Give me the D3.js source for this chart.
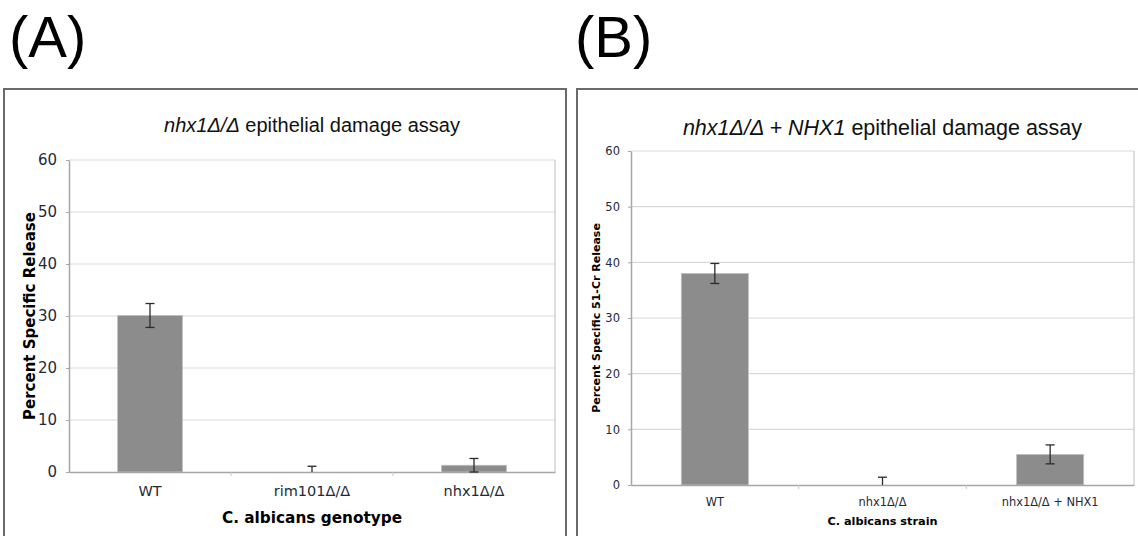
<!DOCTYPE html>
<html>
<head>
<meta charset="utf-8">
<script src="https://cdn.jsdelivr.net/npm/d3@7"></script>
<style>
  body { margin: 0; background: #fff; }
  .tick line { stroke: #a6a6a6; }
  .domain { stroke: #a6a6a6; }
</style>
</head>
<body>
<div id="chart"></div>
<script>
// panel A data
const catsA = ["WT", "rim101\u0394/\u0394", "nhx1\u0394/\u0394"];
const valsA = [30.1, 0, 1.3];
const errA = [2.3, 1.1, 1.3];

// panel B data
const catsB = ["WT", "nhx1\u0394/\u0394", "nhx1\u0394/\u0394 + NHX1"];
const valsB = [38.0, 0, 5.5];
const errB = [1.8, 1.4, 1.7];

const yTicks = [0, 10, 20, 30, 40, 50, 60];

const svg = d3.select('#chart')
    .append('svg')
    .attr('width', 1138)
    .attr('height', 536);

// panel letters
svg.append('text').attr('x', 9).attr('y', 57)
    .style('font-family', 'Liberation Sans, Arial, sans-serif')
    .style('font-size', '58px').text('(A)');
svg.append('text').attr('x', 575).attr('y', 57)
    .style('font-family', 'Liberation Sans, Arial, sans-serif')
    .style('font-size', '58px').text('(B)');

function drawPanel(opt) {
    const g = svg.append('g');
    const rows = opt.cats.map((c, i) => ({cat: c, v: opt.vals[i], e: opt.err[i]}));

    // outer frame
    g.append('rect')
        .attr('x', opt.box[0]).attr('y', opt.box[1])
        .attr('width', opt.box[2]).attr('height', opt.box[3])
        .attr('fill', 'none').attr('stroke', '#6b6b6b').attr('stroke-width', 2);

    const x = d3.scaleBand().domain(opt.cats).range([opt.left, opt.right]).paddingInner(0).paddingOuter(0);
    const y = d3.scaleLinear().domain([0, 60]).range([opt.bottom, opt.top]);

    // gridlines
    g.selectAll('.grid').data(yTicks.slice(1))
        .enter().append('line')
        .attr('x1', opt.left).attr('x2', opt.right)
        .attr('y1', d => y(d)).attr('y2', d => y(d))
        .attr('stroke', '#d9d9d9').attr('stroke-width', 1.2);

    // right border of plot area
    g.append('line')
        .attr('x1', opt.right).attr('x2', opt.right)
        .attr('y1', opt.top).attr('y2', opt.bottom)
        .attr('stroke', '#c8c8c8').attr('stroke-width', 1.2);

    // bars
    const bw = x.bandwidth() * opt.barFrac;
    g.selectAll('.bar').data(rows)
        .enter().append('rect')
        .attr('x', d => x(d.cat) + (x.bandwidth() - bw) / 2)
        .attr('y', d => y(d.v))
        .attr('width', bw)
        .attr('height', d => y(0) - y(d.v))
        .attr('fill', '#8c8c8c')
        .attr('stroke', '#c0c0c0').attr('stroke-width', 0.8);

    // y axis
    const yAxis = g.append('g')
        .attr('transform', 'translate(' + opt.left + ',0)')
        .call(d3.axisLeft(y).tickValues(yTicks).tickSize(3).tickSizeOuter(0).tickPadding(opt.tickPad));
    yAxis.selectAll('text')
        .style('font-family', 'DejaVu Sans, Verdana, sans-serif')
        .style('font-size', opt.tickFont + 'px').attr('fill', '#1e2a3a');
    yAxis.select('.domain').attr('stroke-width', 1.5);

    // x axis
    const xAxis = g.append('g')
        .attr('transform', 'translate(0,' + opt.bottom + ')')
        .call(d3.axisBottom(x).tickSize(0).tickPadding(opt.catPad));
    xAxis.select('.domain').attr('stroke', '#9a9a9a').attr('stroke-width', 1.5);
    xAxis.selectAll('text')
        .style('font-family', 'DejaVu Sans, Verdana, sans-serif')
        .style('font-size', opt.catFont + 'px').attr('fill', '#1e2a3a');
    // category separator ticks
    g.selectAll('.sep').data(opt.cats.slice(1))
        .enter().append('line')
        .attr('x1', d => x(d)).attr('x2', d => x(d))
        .attr('y1', opt.bottom).attr('y2', opt.bottom + 4)
        .attr('stroke', '#c8c8c8');

    // error bars
    const cx = d => x(d.cat) + x.bandwidth() / 2;
    const eg = g.selectAll('.err').data(rows)
        .enter().append('g')
        .attr('stroke', '#2b2b2b').attr('stroke-width', 1.3);
    eg.append('line')
        .attr('x1', cx).attr('x2', cx)
        .attr('y1', d => y(d.v + d.e)).attr('y2', d => y(Math.max(0, d.v - d.e)));
    eg.append('line')
        .attr('x1', d => cx(d) - 4.5).attr('x2', d => cx(d) + 4.5)
        .attr('y1', d => y(d.v + d.e)).attr('y2', d => y(d.v + d.e));
    eg.filter(d => d.v > 0).append('line')
        .attr('x1', d => cx(d) - 4.5).attr('x2', d => cx(d) + 4.5)
        .attr('y1', d => y(d.v - d.e)).attr('y2', d => y(d.v - d.e));

    // title
    const t = g.append('text')
        .attr('x', (opt.left + opt.right) / 2).attr('y', opt.titleY)
        .attr('text-anchor', 'middle')
        .style('font-family', 'Liberation Sans, Arial, sans-serif')
        .style('font-size', opt.titleFont + 'px').attr('fill', '#111');
    opt.title.forEach(p => {
        t.append('tspan').style('font-style', p[1] ? 'italic' : 'normal').text(p[0]);
    });

    // axis titles
    g.append('text')
        .attr('transform', 'translate(' + opt.yTitleX + ',' + ((opt.top + opt.bottom) / 2) + ') rotate(-90)')
        .attr('text-anchor', 'middle')
        .style('font-family', 'DejaVu Sans, Verdana, sans-serif')
        .style('font-weight', 'bold')
        .style('font-size', opt.yTitleFont + 'px')
        .text(opt.yTitle);
    g.append('text')
        .attr('x', (opt.left + opt.right) / 2).attr('y', opt.xTitleY)
        .attr('text-anchor', 'middle')
        .style('font-family', 'DejaVu Sans, Verdana, sans-serif')
        .style('font-weight', 'bold')
        .style('font-size', opt.axisFont + 'px')
        .text(opt.xTitle);
}

drawPanel({
    cats: catsA, vals: valsA, err: errA,
    box: [4, 89, 562, 460],
    left: 69, right: 555, top: 160, bottom: 472,
    barFrac: 0.4,
    tickFont: 15, tickPad: 9, catFont: 14.5, catPad: 14, axisFont: 15.3, yTitleFont: 15,
    title: [["nhx1\u0394/\u0394", true], [" epithelial damage assay", false]],
    titleY: 132, titleFont: 20,
    yTitle: 'Percent Specific Release', yTitleX: 35,
    xTitle: 'C. albicans genotype', xTitleY: 523
});

drawPanel({
    cats: catsB, vals: valsB, err: errB,
    box: [577, 89, 570, 460],
    left: 631, right: 1134, top: 151, bottom: 485,
    barFrac: 0.4,
    tickFont: 11.5, tickPad: 8, catFont: 11.4, catPad: 13, axisFont: 11.3, yTitleFont: 11,
    title: [["nhx1\u0394/\u0394 + ", true], ["NHX1", true], [" epithelial damage assay", false]],
    titleY: 135, titleFont: 21.5,
    yTitle: 'Percent Specific 51-Cr Release', yTitleX: 600,
    xTitle: 'C. albicans strain', xTitleY: 525
});
</script>
</body>
</html>
